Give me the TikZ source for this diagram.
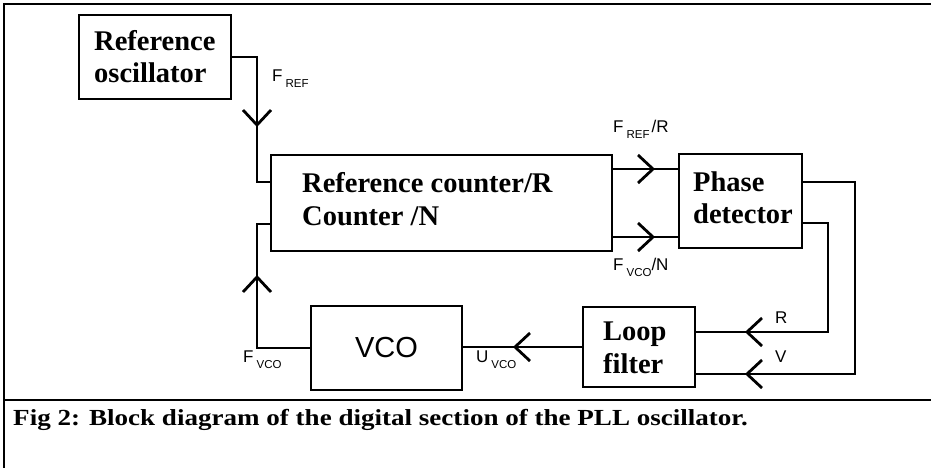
\documentclass[tikz,border=0pt]{standalone}
\usepackage{fontspec}
\setmainfont{Liberation Serif}
\newfontfamily\arialf{Liberation Sans}
\newcommand\mysub[1]{\hspace{3pt}\raisebox{-6pt}{\fontsize{11.5}{11.5}\selectfont #1}}
\begin{document}
\begin{tikzpicture}[x=1pt,y=-1pt,
  wire/.style={line width=2.8pt, line join=miter},
  blk/.style={draw, line width=2.8pt, inner sep=0pt, anchor=center},
  bigt/.style={font=\fontsize{28.5}{33}\selectfont\bfseries, anchor=base west, inner sep=0pt},
  lab/.style={font=\arialf\fontsize{17}{17}\selectfont, anchor=base west, inner sep=0pt},
  capt/.style={font=\fontsize{23}{26}\selectfont\bfseries, anchor=base west, inner sep=0pt, xscale=1.176, transform shape},
  vtip/.pic={\draw[wire] (-15,-14) -- (0,0) -- (-15,14);}
]
\useasboundingbox (0,0) rectangle (931,467);
% frame
\draw[line width=2.8pt] (940,4) -- (4,4) -- (4,475);
\draw[line width=2.8pt] (4,400) -- (940,400);

% boxes
\node[blk, minimum width=152pt, minimum height=84pt] (refosc) at (155,57) {};
\node[blk, minimum width=341pt, minimum height=96pt] (counter) at (441.5,203) {};
\node[blk, minimum width=123pt, minimum height=94pt] (phase) at (740.5,201) {};
\node[blk, minimum width=112pt, minimum height=80pt] (loop) at (639,347) {};
\node[blk, minimum width=151pt, minimum height=84pt, font=\arialf\fontsize{29}{29}\selectfont] (vco) at (386.5,348) {VCO};

% box texts
\node[bigt] (t1) at (94,50) {Reference};
\node[bigt] (t2) at (94,82) {oscillator};
\node[bigt] (t3) at (302,192) {Reference counter/R};
\node[bigt] (t4) at (302,225) {Counter /N};
\node[bigt] (t5) at (693,191) {Phase};
\node[bigt] (t6) at (693,223) {detector};
\node[bigt] (t7) at (603,340) {Loop};
\node[bigt] (t8) at (603,373) {filter};

% connectors
\coordinate (j1) at (257,182);
\coordinate (j2) at (257,224);
\coordinate (c5) at (855,374);
\coordinate (c6) at (828,332);
\draw[wire] (refosc.east) -| (j1) -- (j1 -| counter.west);
\draw[wire] (vco.west) -| (j2) -- (j2 -| counter.west);
\draw[wire] (counter.east |- 0,169) -- (phase.west |- 0,169);
\draw[wire] (counter.east |- 0,237) -- (phase.west |- 0,237);
\draw[wire] (phase.east |- 0,182) -| (c5) -- (c5 -| loop.east);
\draw[wire] (phase.east |- 0,223) -| (c6) -- (c6 -| loop.east);
\draw[wire] (loop.west |- 0,347) -- (vco.east |- 0,347);

% arrow heads
\path (257,125) pic[rotate=-90] {vtip};
\path (257,277) pic[rotate=90] {vtip};
\path (653,169) pic {vtip};
\path (653,237) pic {vtip};
\path (747,332) pic[rotate=180] {vtip};
\path (747,374) pic[rotate=180] {vtip};
\path (515,347) pic[rotate=180] {vtip};

% labels
\node[lab] (lref) at (272,81) {F\mysub{REF}};
\node[lab] (lrefr) at (613,132) {F\mysub{REF}\hspace{2pt}/R};
\node[lab] (lvcon) at (613,270) {F\mysub{VCO}/N};
\node[lab] (lfvco) at (243,362) {F\mysub{VCO}};
\node[lab] (luvco) at (476,362) {U\mysub{VCO}};
\node[lab] (lr) at (775,323) {R};
\node[lab] (lv) at (775,362) {V};

% caption
\node[capt] (cap) at (13,425) {Fig 2: Block diagram of the digital section of the PLL oscillator.};
\end{tikzpicture}
\end{document}
